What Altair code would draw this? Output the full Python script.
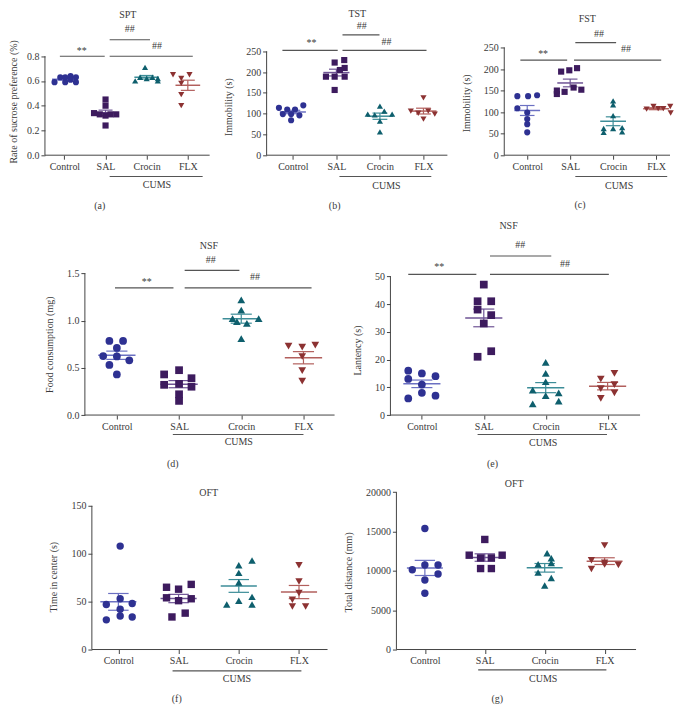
import altair as alt
import pandas as pd
import numpy as np

GROUPS = ["Control", "SAL", "Crocin", "FLX"]
SHAPES = ["circle", "square", "triangle-up", "triangle-down"]
PT_COL = ["#2e3192", "#3d1b5e", "#0e5f6d", "#8c3232"]
MN_COL = ["#6b70c2", "#6e5394", "#3d8d98", "#b25f5c"]
FONT = "Liberation Serif"
TXT = "#3a3a3a"
LINE = "#555555"
SX, SY = 1.0, 0.972

# ---------------- data ----------------
spt_vals = [[0.63, 0.63, 0.64, 0.63, 0.59, 0.59, 0.59, 0.61],
            [0.45, 0.40, 0.34, 0.33, 0.32, 0.33, 0.33, 0.24],
            [0.71, 0.60, 0.63, 0.62, 0.63, 0.62, 0.60],
            [0.65, 0.65, 0.62, 0.58, 0.49, 0.40]]
spt_offs = [[-0.1, 0.02, 0.15, 0.28, -0.24, 0.02, 0.28, 0.15],
            [0, 0, -0.28, -0.14, 0, 0.12, 0.26, 0],
            [-0.04, -0.28, -0.16, 0, 0.14, 0.27, 0.27],
            [-0.36, 0.04, -0.16, -0.16, -0.16, -0.16]]

tst_vals = [[114, 99, 110, 84, 110, 96, 120, 99],
            [223, 229, 205, 210, 189, 189, 189, 157],
            [99, 118, 97, 106, 99, 82, 56],
            [138, 106, 101, 106, 99, 87]]
tst_offs = [[-0.32, -0.23, -0.13, -0.04, 0.05, 0.15, 0.24, -0.04],
            [-0.04, 0.18, 0.08, 0.19, -0.24, -0.04, 0.19, -0.04],
            [-0.28, 0, -0.12, 0.1, 0.28, 0, 0],
            [0, -0.29, -0.12, 0.11, 0.26, 0]]

fst_vals = [[137, 137, 139, 109, 99, 84, 72, 53],
            [194, 197, 202, 142, 150, 147, 157, 152],
            [126, 117, 92, 62, 53, 62, 64, 54],
            [107, 113, 108, 108, 113, 98]]
fst_offs = [[-0.23, 0.02, 0.23, -0.23, 0, 0, 0, 0],
            [-0.21, -0.02, 0.16, -0.31, -0.31, -0.13, 0.08, 0.26],
            [0, 0, 0, -0.22, -0.22, 0, 0.21, 0.21],
            [-0.22, -0.06, 0.05, 0.17, 0.33, 0.34]]

food_vals = [[0.785, 0.785, 0.71, 0.625, 0.62, 0.58, 0.53, 0.43],
             [0.43, 0.475, 0.32, 0.33, 0.39, 0.30, 0.22, 0.15],
             [1.22, 1.11, 1.02, 0.99, 0.97, 1.02, 0.81],
             [0.73, 0.72, 0.74, 0.62, 0.47, 0.36]]
food_offs = [[-0.12, 0.1, 0, -0.22, 0, 0.2, -0.12, 0],
             [-0.24, 0, -0.24, 0, 0.2, 0.2, 0, 0],
             [0, 0, -0.14, -0.07, 0.09, 0.28, 0],
             [-0.24, -0.02, 0.19, -0.02, -0.02, -0.02]]

lat_vals = [[16, 15, 13, 14, 11, 8, 6, 7],
            [47, 41, 41, 38, 36, 33, 23, 21],
            [19, 15, 12, 9, 8, 7, 4, 5],
            [13, 15, 9.5, 11, 6, 8]]
lat_offs = [[-0.22, 0, -0.22, 0.22, 0, 0, -0.22, 0.22],
            [0, -0.1, 0.12, -0.1, 0.12, 0, 0.12, -0.1],
            [0, 0, 0, -0.21, 0.21, 0, -0.21, 0.21],
            [-0.11, 0.11, -0.11, 0.11, -0.11, 0.11]]

tic_vals = [[108, 47, 53, 48, 42, 35, 34, 31],
            [65, 63, 68, 54, 51, 53, 34, 38],
            [93, 88, 80, 70, 47, 51, 55, 47],
            [88, 71, 59, 52, 45, 45]]
tic_offs = [[0.03, -0.2, 0.03, 0.23, 0.03, 0.03, 0.23, -0.2],
            [-0.2, 0, 0.21, -0.2, 0, 0.21, -0.11, 0.11],
            [0.22, 0, 0, 0, -0.2, 0, 0.22, 0.22],
            [0, 0, 0, -0.11, -0.11, 0.11]]

dist_vals = [[15400, 10150, 10750, 10750, 9600, 8850, 7150],
             [14000, 12000, 12000, 11650, 11650, 10300, 10300],
             [12250, 10850, 11600, 9800, 9100, 8150, 11000],
             [13250, 11350, 11050, 10250, 10800, 10750]]
dist_offs = [[0, -0.21, 0, 0.22, 0.22, 0, 0],
             [0, -0.26, 0.29, -0.07, 0.11, -0.07, 0.11],
             [0.04, -0.11, 0.11, -0.11, 0.11, 0, 0.11],
             [0, -0.22, 0, -0.22, 0, 0.23]]


def mk_panel(vals, offs, w, h, xdom, ydom, yticks, yfmt, ytitle, ytop, xend,
             segs, texts, msize, title_y=None, title_pad=12):
    rows = []
    for gi, (vs, os_) in enumerate(zip(vals, offs)):
        for v, o in zip(vs, os_):
            rows.append({"g": GROUPS[gi], "x": gi + o, "y": v})
    pts = pd.DataFrame(rows)
    means, caps, sems = [], [], []
    for gi, vs in enumerate(vals):
        a = np.array(vs, float)
        m = a.mean()
        se = a.std(ddof=1) / np.sqrt(len(a))
        g = GROUPS[gi]
        means.append({"g": g, "x1": gi - 0.3, "x2": gi + 0.3, "y": m})
        caps.append({"g": g, "x1": gi - 0.17, "x2": gi + 0.17, "y": m + se})
        caps.append({"g": g, "x1": gi - 0.17, "x2": gi + 0.17, "y": m - se})
        sems.append({"g": g, "x": gi, "y1": m - se, "y2": m + se})
    means, caps, sems = pd.DataFrame(means), pd.DataFrame(caps), pd.DataFrame(sems)

    xs = alt.Scale(domain=xdom, nice=False, zero=False)
    ys = alt.Scale(domain=ydom, nice=False, zero=False)
    xax = alt.Axis(values=[0, 1, 2, 3],
                   labelExpr="['Control','SAL','Crocin','FLX'][datum.value]",
                   title=None, domain=False, grid=False, tickSize=4, labelPadding=2)
    yargs = dict(values=yticks, format=yfmt, title=ytitle, domain=False,
                 grid=False, tickSize=4, labelPadding=2, titlePadding=title_pad)
    if title_y is not None:
        yargs["titleY"] = title_y * SY
    yax = alt.Axis(**yargs)

    def X(f):
        return alt.X(f"{f}:Q", scale=xs, axis=xax)

    def Y(f):
        return alt.Y(f"{f}:Q", scale=ys, axis=yax)

    stroke_mean = alt.Stroke("g:N", scale=alt.Scale(domain=GROUPS, range=MN_COL), legend=None)

    axes_df = pd.DataFrame({"x1": [xdom[0], xdom[0]], "x2": [xdom[0], xend],
                            "y1": [0, 0], "y2": [ytop, 0]})
    axes = alt.Chart(axes_df).mark_rule(color="#444444", strokeWidth=1).encode(
        x=X("x1"), x2="x2", y=Y("y1"), y2="y2")

    seg_df = pd.DataFrame(segs, columns=["x1", "x2", "y"])
    sig = alt.Chart(seg_df).mark_rule(color=LINE, strokeWidth=1.1).encode(
        x=X("x1"), x2="x2", y=Y("y"))

    mean_l = alt.Chart(means).mark_rule(strokeWidth=1.5).encode(
        x=X("x1"), x2="x2", y=Y("y"), stroke=stroke_mean)
    cap_l = alt.Chart(caps).mark_rule(strokeWidth=1.2).encode(
        x=X("x1"), x2="x2", y=Y("y"), stroke=stroke_mean)
    sem_l = alt.Chart(sems).mark_rule(strokeWidth=1.2).encode(
        x=X("x"), y=Y("y1"), y2="y2", stroke=stroke_mean)

    points = alt.Chart(pts).mark_point(filled=True, opacity=1, size=msize).encode(
        x=X("x"), y=Y("y"),
        fill=alt.Fill("g:N", scale=alt.Scale(domain=GROUPS, range=PT_COL), legend=None),
        shape=alt.Shape("g:N", scale=alt.Scale(domain=GROUPS, range=SHAPES), legend=None))

    txt_df = pd.DataFrame(texts, columns=["x", "y", "t"])
    txt = alt.Chart(txt_df).mark_text(font=FONT, fontSize=10, color=TXT,
                                       baseline="middle", align="center").encode(
        x=X("x"), y=Y("y"), text="t:N")

    return alt.layer(axes, sig, sem_l, cap_l, mean_l, points, txt).properties(
        width=w * SX, height=h * SY)


def spacer(w, h):
    return alt.Chart(pd.DataFrame({"v": [0]})).mark_point(opacity=0, size=1).encode(
        x=alt.value(0.5), y=alt.value(5)).properties(width=w, height=h)


# row 1: plot top at ref y=39, bottom 150
pa = mk_panel(spt_vals, spt_offs, 222, 111, [-0.473, 4.915], [0, 0.8706],
              [0, 0.2, 0.4, 0.6, 0.8], ".1f", "Rate of sucrose preference (%)", 0.8, 3.53,
              [(1.10, 2.08, 0.933), (-0.11, 0.98, 0.80), (1.10, 3.12, 0.80),
               (1.10, 3.36, -0.1725)],
              [(1.54, 1.129, "SPT"), (1.59, 1.02, "##"), (0.42, 0.843, "**"),
               (2.25, 0.886, "##"), (2.25, -0.243, "CUMS"), (0.86, -0.408, "(a)")], 38,
              title_pad=8)

pb = mk_panel(tst_vals, tst_offs, 238, 111, [-0.603, 4.856], [0, 259.3],
              [0, 50, 100, 150, 200, 250], "d", "Immobility (s)", 250, 3.55,
              [(1.14, 1.99, 289.7), (-0.24, 1.03, 252.3), (1.14, 3.07, 252.3),
               (1.07, 3.18, -51.4)],
              [(1.48, 338.8, "TST"), (1.58, 310.7, "##"), (0.43, 269.9, "**"),
               (2.15, 273.4, "##"), (2.15, -74.8, "CUMS"), (0.96, -121.5, "(b)")], 38,
              title_y=61)

pc = mk_panel(fst_vals, fst_offs, 166, 111, [-0.535, 3.325], [0, 250],
              [0, 50, 100, 150, 200, 250], "d", "Immobility (s)", 250, 3.325,
              [(1.12, 2.07, 261.3), (-0.16, 0.93, 220.7), (1.09, 3.12, 220.7),
               (1.12, 3.26, -49.5)],
              [(1.40, 315.3, "FST"), (1.67, 281.5, "##"), (0.37, 235.4, "**"),
               (2.30, 245.5, "##"), (2.14, -72.1, "CUMS"), (1.23, -114.9, "(c)")], 38,
              title_y=57)

# row 2: plot top at ref y=208, bottom 417
pd_ = mk_panel(food_vals, food_offs, 306, 209, [-0.514, 4.398], [0, 2.147],
               [0, 0.5, 1.0, 1.5], ".1f", "Food consumption (mg)", 1.5, 3.5,
               [(1.09, 1.97, 1.531), (-0.03, 0.91, 1.346), (1.09, 3.13, 1.346),
                (0.90, 3.0, -0.205)],
               [(1.48, 1.788, "NSF"), (1.51, 1.644, "##"), (0.48, 1.413, "**"),
                (2.22, 1.459, "##"), (1.96, -0.288, "CUMS"), (0.90, -0.514, "(d)")], 60,
               title_y=136)

pe = mk_panel(lat_vals, lat_offs, 250, 209, [-0.508, 3.524], [0, 73.08],
              [0, 10, 20, 30, 40, 50], "d", "Lantency (s)", 50, 3.524,
              [(1.10, 2.09, 57.3), (-0.22, 0.88, 50.7), (1.10, 3.02, 50.7),
               (0.90, 2.99, -7.0)],
              [(1.40, 68.2, "NSF"), (1.59, 61.2, "##"), (0.28, 53.3, "**"),
               (2.31, 54.5, "##"), (1.96, -10.1, "CUMS"), (1.14, -17.5, "(e)")], 60,
              title_y=142)

# row 3: plot top at ref y=478, bottom 658
pf = mk_panel(tic_vals, tic_offs, 305, 180, [-0.44, 4.618], [0, 182.4],
              [0, 50, 100, 150], "d", "Time in center (s)", 150, 3.474,
              [(0.90, 3.04, -22.3)],
              [(1.50, 163.2, "OFT"), (1.97, -30.4, "CUMS"), (0.97, -51.7, "(f)")], 55,
              title_y=105)

pg = mk_panel(dist_vals, dist_offs, 240, 180, [-0.475, 3.525], [0, 22222],
              [0, 5000, 10000, 15000, 20000], "d", "Total distance (mm)", 20000, 3.525,
              [(0.89, 3.03, -2593)],
              [(1.49, 21111, "OFT"), (1.975, -3704, "CUMS"), (1.21, -6296, "(g)")], 55,
              title_y=100)

row1 = alt.hconcat(spacer(1, 169 * SY), pa, pb, pc, spacing=0, bounds="flush")
row2 = alt.hconcat(spacer(1 + 40 * SX, 270 * SY), pd_, pe, spacing=0, bounds="flush")
row3 = alt.hconcat(spacer(1 + 47 * SX, 1), pf, pg, spacing=0, bounds="flush")

chart = alt.vconcat(row1, row2, row3, spacing=0).properties(
    padding={"left": 0, "top": 0, "right": 0, "bottom": 0}
).configure_view(stroke=None).configure_axis(
    labelFont=FONT, titleFont=FONT, labelFontSize=10, titleFontSize=10,
    titleFontWeight="normal", labelColor=TXT, titleColor=TXT,
    tickColor="#444444", grid=False
)

chart.save("out.html", embed_options={"renderer": "svg", "actions": False})
